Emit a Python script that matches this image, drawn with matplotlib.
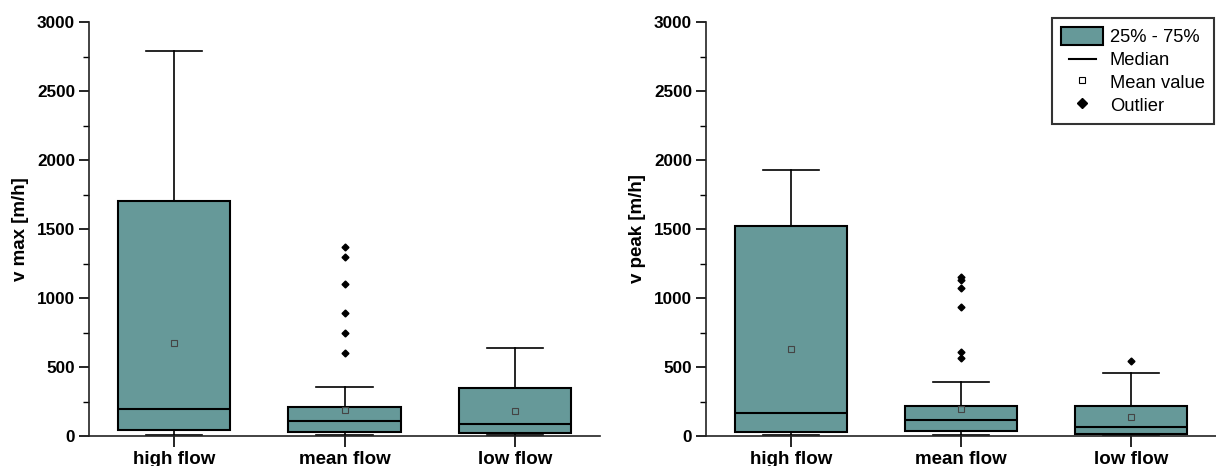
import matplotlib
matplotlib.use("Agg")
import matplotlib.pyplot as plt
from matplotlib.patches import Patch
from matplotlib.lines import Line2D
from matplotlib.legend_handler import HandlerBase
from matplotlib.ticker import MultipleLocator

plt.rcParams['font.family'] = ['Liberation Sans', 'DejaVu Sans']

categories = ["high flow", "mean flow", "low flow"]

# v max [m/h] per flow class
vmax_q1 = [45, 29, 24]
vmax_med = [194, 109, 86]
vmax_q3 = [1700, 210, 345]
vmax_lo = [4, 4, 4]
vmax_hi = [2790, 358, 637]
vmax_mean = [674, 191, 178]
vmax_out = [[], [1372, 1295, 1101, 894, 749, 599], []]

# v peak [m/h] per flow class
vpeak_q1 = [29, 36, 14]
vpeak_med = [167, 116, 63]
vpeak_q3 = [1522, 215, 215]
vpeak_lo = [4, 6, 4]
vpeak_hi = [1928, 391, 459]
vpeak_mean = [633, 193, 135]
vpeak_out = [[], [1155, 1133, 1070, 932, 611, 563], [541]]

TEAL = "#669999"


class ShortLineHandler(HandlerBase):
    # median entry: a line a bit shorter than the box swatch
    def create_artists(self, legend, orig_handle, xdescent, ydescent,
                       width, height, fontsize, trans):
        pad = width * 0.18
        y = height / 2 - ydescent
        line = Line2D([pad - xdescent, width - pad - xdescent], [y, y],
                      color=orig_handle.get_color(),
                      linewidth=orig_handle.get_linewidth(), transform=trans)
        return [line]


def make_stats(q1, med, q3, lo, hi, mean, out):
    stats = []
    for i in range(len(categories)):
        stats.append(dict(q1=q1[i], med=med[i], q3=q3[i], whislo=lo[i],
                          whishi=hi[i], mean=mean[i], fliers=out[i],
                          label=categories[i]))
    return stats


def draw_panel(ax, stats, ylabel):
    ax.bxp(stats, positions=[1, 2, 3], widths=0.66, capwidths=0.33,
           patch_artist=True, showmeans=True,
           boxprops=dict(facecolor=TEAL, edgecolor="black", linewidth=1.5),
           medianprops=dict(color="black", linewidth=1.5),
           whiskerprops=dict(color="black", linewidth=1.2),
           capprops=dict(color="black", linewidth=1.2),
           meanprops=dict(marker="s", markersize=4, markerfacecolor="none",
                          markeredgecolor="#444444", markeredgewidth=0.8),
           flierprops=dict(marker="D", markersize=3.5, markerfacecolor="black",
                           markeredgecolor="black"))
    ax.set_xlim(0.5, 3.5)
    ax.set_ylim(0, 3000)
    ax.yaxis.set_major_locator(MultipleLocator(500))
    ax.yaxis.set_minor_locator(MultipleLocator(250))
    ax.spines["top"].set_visible(False)
    ax.spines["right"].set_visible(False)
    for side in ("left", "bottom"):
        ax.spines[side].set_linewidth(1.2)
        ax.spines[side].set_color("#222222")
    ax.tick_params(axis="y", which="major", length=7, width=1.2, labelsize=12.3, pad=3)
    ax.tick_params(axis="y", which="minor", length=4, width=1.0)
    ax.tick_params(axis="x", length=8, width=1.2, labelsize=13.5, pad=3)
    for lab in ax.get_xticklabels() + ax.get_yticklabels():
        lab.set_fontweight("bold")
    ax.set_ylabel(ylabel, fontsize=13.5, fontweight="bold", labelpad=6)


fig = plt.figure(figsize=(12.16, 4.66), dpi=100)
ax1 = fig.add_axes([89 / 1216, 1 - 436 / 466, 511 / 1216, 414 / 466])
ax2 = fig.add_axes([706 / 1216, 1 - 436 / 466, 510 / 1216, 414 / 466])

draw_panel(ax1, make_stats(vmax_q1, vmax_med, vmax_q3, vmax_lo, vmax_hi,
                           vmax_mean, vmax_out), "v max [m/h]")
draw_panel(ax2, make_stats(vpeak_q1, vpeak_med, vpeak_q3, vpeak_lo, vpeak_hi,
                           vpeak_mean, vpeak_out), "v peak [m/h]")

median_handle = Line2D([], [], color="black", linewidth=1.5)
handles = [
    Patch(facecolor=TEAL, edgecolor="black", linewidth=1.5),
    median_handle,
    Line2D([], [], linestyle="none", marker="s", markersize=5,
           markerfacecolor="white", markeredgecolor="black", markeredgewidth=0.8),
    Line2D([], [], linestyle="none", marker="D", markersize=5,
           markerfacecolor="black", markeredgecolor="black"),
]
labels = ["25% - 75%", "Median", "Mean value", "Outlier"]
leg = fig.legend(handles, labels, loc="upper right",
                 bbox_to_anchor=(1214 / 1216, 1 - 18 / 466),
                 fontsize=13.2, frameon=True, fancybox=False,
                 handlelength=2.3, handleheight=1.15, handletextpad=0.35,
                 labelspacing=0.19, borderpad=0.5, borderaxespad=0,
                 handler_map={median_handle: ShortLineHandler()})
leg.get_frame().set_edgecolor("black")
leg.get_frame().set_linewidth(1.5)

fig.savefig("out.png", dpi=100)
